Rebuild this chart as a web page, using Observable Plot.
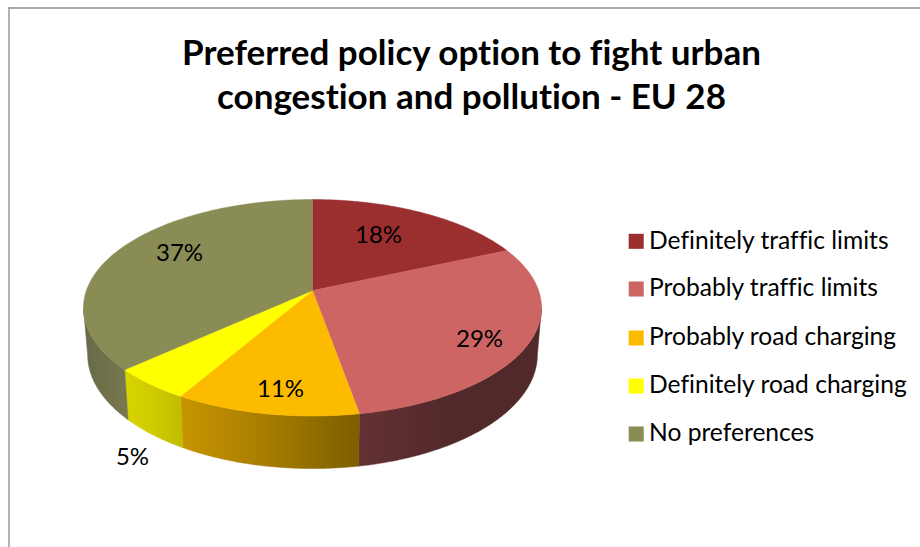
<!DOCTYPE html>
<html>
<head>
<meta charset="utf-8">
<script src="https://cdn.jsdelivr.net/npm/d3@7"></script>
<script src="https://cdn.jsdelivr.net/npm/@observablehq/plot@0.6"></script>
<style>html,body{margin:0;padding:0;background:#fff}svg{display:block}</style>
</head>
<body>
<div id="chart"></div>
<script>
const titleLines = ["Preferred policy option to fight urban", "congestion and pollution - EU 28"];
const categories = ["Definitely traffic limits", "Probably traffic limits", "Probably road charging", "Definitely road charging", "No preferences"];
const shares = [18.4, 28.8, 11.2, 4.9, 36.7];
const percentLabels = ["18%", "29%", "11%", "5%", "37%"];
const topColors = ["#9b2f30", "#cd6565", "#fdbb00", "#ffff00", "#8a8c55"];
const sideGradients = [null, ["#633134", "#52292b", "#52292b"], ["#c89500", "#a57c00", "#7c5e00"], ["#d8d400", "#cfcb00", "#c0bc00"], ["#68694a", "#70714a", "#78794f"]];

// layout of the drawing
const W = 920, H = 547;
const FONT = "Lato, Carlito, Calibri, sans-serif";
const TOP = {cx: 312, cy: 290, rx: 226.1, ry: 105.5};
const BOTTOM = {cx: 312, cy: 336, rx: 222, ry: 111};
const TILT = 0.1594;
const labelAt = [[378, 235], [479, 339], [280, 389], [132, 457], [179, 253]];
const legendY = [240.8, 288.5, 337.5, 385.5, 433.5];

// perspective projection of a circle: angle in turns, clockwise from the back
function project(disc, t) {
  const a = t * 2 * Math.PI, u = Math.sin(a), v = -Math.cos(a), d = 1 - TILT * v;
  return {x: disc.cx + disc.rx * u / d, y: disc.cy + disc.ry * v / d};
}
const range = (a, b) => d3.range(0, 121).map(i => a + (b - a) * i / 120);

let acc = 0;
const slices = shares.map((s, i) => {
  const start = acc / 100;
  acc += s;
  return {i, start, end: acc / 100};
});

// the rim is visible between the two points where the disc is widest
const rimStart = Math.acos(-TILT) / (2 * Math.PI), rimEnd = 1 - rimStart;

const topFaces = slices.map(s => [{x: TOP.cx, y: TOP.cy}, ...range(s.start, s.end).map(t => project(TOP, t))]);
const sideFaces = slices.filter(s => sideGradients[s.i]).map(s => {
  const ts = range(Math.max(s.start, rimStart), Math.min(s.end, rimEnd));
  return {i: s.i, pts: [...ts.map(t => project(TOP, t)), ...ts.slice().reverse().map(t => project(BOTTOM, t))]};
});

const polygon = (pts, fill) => Plot.line([...pts, pts[0]], {x: "x", y: "y", fill, stroke: fill, strokeWidth: 0.5, curve: "linear"});

const plot = Plot.plot({
  width: W, height: H, margin: 0,
  style: {background: "#fff", fontVariantLigatures: "none"},
  x: {domain: [0, W], range: [0, W], axis: null},
  y: {domain: [0, H], range: [0, H], axis: null},
  marks: [
    Plot.ruleY([7.5], {x1: 8.5, x2: W, stroke: "#8e8e8e", strokeWidth: 1.5}),
    Plot.ruleX([8.5], {y1: 7, y2: H, stroke: "#9a9a9a", strokeWidth: 1.5}),
    ...sideFaces.map(f => polygon(f.pts, `url(#side${f.i})`)),
    ...topFaces.map((pts, i) => polygon(pts, topColors[i])),
    Plot.text(percentLabels, {
      x: (d, i) => labelAt[i][0], y: (d, i) => labelAt[i][1], text: d => d,
      fontFamily: FONT, fontSize: 24, fill: "#000", textAnchor: "middle", lineAnchor: "middle"
    }),
    Plot.dot(categories, {
      x: () => 635.7, y: (d, i) => legendY[i], symbol: "square", r: 8.5,
      fill: (d, i) => topColors[i], stroke: "none"
    }),
    Plot.text(categories, {
      x: () => 648.5, y: (d, i) => legendY[i] - 0.5, text: d => d,
      fontFamily: FONT, fontSize: 24.6, fill: "#000", textAnchor: "start", lineAnchor: "middle"
    }),
    Plot.text(titleLines, {
      x: () => 471, y: (d, i) => [53, 97][i], text: d => d,
      fontFamily: FONT, fontSize: 35, fontWeight: 700, fill: "#000", textAnchor: "middle", lineAnchor: "middle"
    })
  ]
});

const defs = d3.select(plot).insert("defs", ":first-child");
sideGradients.forEach((stops, i) => {
  if (!stops) return;
  const g = defs.append("linearGradient").attr("id", `side${i}`).attr("x1", 0).attr("x2", 1).attr("y1", 0).attr("y2", 0);
  stops.forEach((c, j) => g.append("stop").attr("offset", j / (stops.length - 1)).attr("stop-color", c));
});
document.getElementById("chart").append(plot);
</script>
</body>
</html>
